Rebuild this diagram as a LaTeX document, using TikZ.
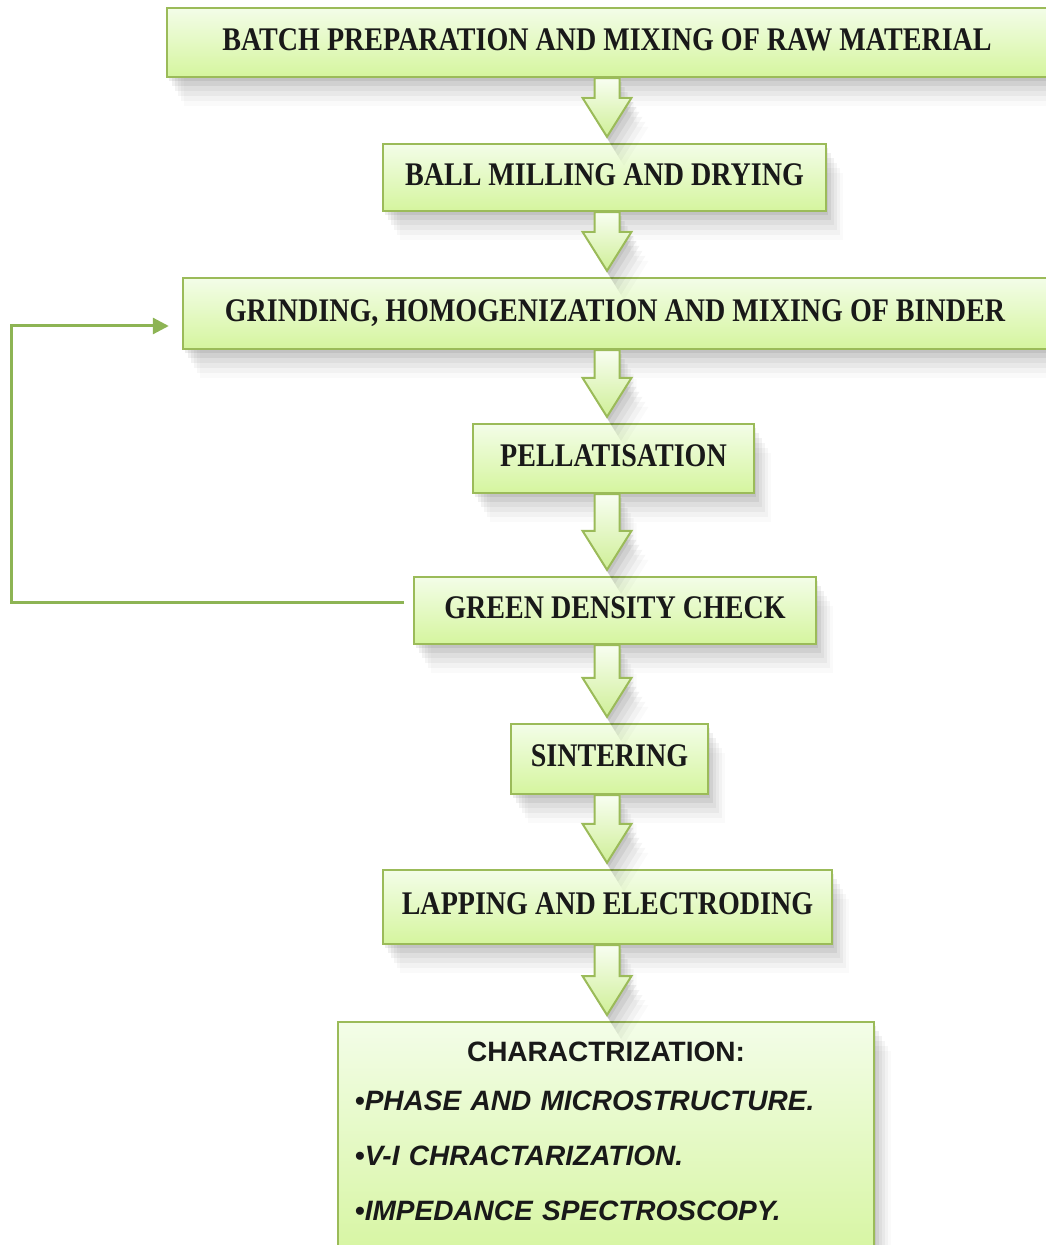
\documentclass[tikz,border=0pt]{standalone}
\usepackage{fontspec}
\setmainfont{Liberation Serif}
\setsansfont{Liberation Sans}
\newfontfamily\stepfont{Liberation Serif}[FakeStretch=0.85]
\usetikzlibrary{shadows,arrows.meta,calc}
\definecolor{stepedge}{HTML}{9BBB59}
\definecolor{steptop}{HTML}{F3FDE8}
\definecolor{stepbot}{HTML}{D5F59E}
\definecolor{fbgreen}{HTML}{8DB454}
\tikzset{
  softshadow/.style={
    drop shadow={shadow xshift=1pt,shadow yshift=-2pt,opacity=0.07,fill=black},
    drop shadow={shadow xshift=2.5pt,shadow yshift=-4.5pt,opacity=0.06,fill=black},
    drop shadow={shadow xshift=4pt,shadow yshift=-7pt,opacity=0.05,fill=black},
    drop shadow={shadow xshift=5.5pt,shadow yshift=-9.5pt,opacity=0.04,fill=black},
    drop shadow={shadow xshift=7pt,shadow yshift=-12pt,opacity=0.03,fill=black},
    drop shadow={shadow xshift=8.5pt,shadow yshift=-14.5pt,opacity=0.02,fill=black}},
  stepbox/.style={draw=stepedge,line width=1.2pt,top color=steptop,bottom color=stepbot,
    text=black!90,font=\stepfont\bfseries\fontsize{16.5}{19}\selectfont,inner sep=0pt,
    text height=12pt,text depth=4.2pt,softshadow},
  charbox/.style={stepbox,font=\sffamily\bfseries\fontsize{14}{27.5}\selectfont,
    text height=,text depth=,
    minimum width=268pt,inner xsep=8.5pt,inner ysep=10pt,text width=251pt},
  flowarrow/.style={draw=stepedge,line width=1pt,top color=steptop!60!white,bottom color=stepbot!90!stepedge,
    softshadow},
  feedback/.style={draw=fbgreen,line width=1.5pt,-{Triangle[length=8pt,width=8pt]}}
}
\newcommand{\flowarrow}[2]{%
  \path[flowarrow] let \p1=(#1.south), \p2=(#2.north) in
    (297.25pt,\y1) -- ({297.25pt},{\y2+22.5pt}) -- ({291.25pt},{\y2+22.5pt})
    -- ({303.5pt},{\y2+3pt}) -- ({315.75pt},{\y2+22.5pt}) -- ({309.75pt},{\y2+22.5pt})
    -- (309.75pt,\y1) -- cycle;}
\begin{document}
\begin{tikzpicture}[x=0.5pt,y=-0.5pt]
  \useasboundingbox (0,0) rectangle (1045,1245);
  \node[stepbox,minimum width=440pt,minimum height=34.5pt] (batch) at (607,42.5) {BATCH PREPARATION AND MIXING OF RAW MATERIAL};
  \node[stepbox,minimum width=221.5pt,minimum height=33.5pt] (milling) at (604.5,177.5) {BALL MILLING AND DRYING};
  \node[stepbox,minimum width=432pt,minimum height=35.5pt] (grinding) at (615,313.5) {GRINDING, HOMOGENIZATION AND MIXING OF BINDER};
  \node[stepbox,minimum width=140.5pt,minimum height=34.5pt] (pellet) at (613.5,458.5) {PELLATISATION};
  \node[stepbox,minimum width=201pt,minimum height=33.5pt] (density) at (615,610.5) {GREEN DENSITY CHECK};
  \node[stepbox,minimum width=98.5pt,minimum height=35pt] (sinter) at (609.5,759) {SINTERING};
  \node[stepbox,minimum width=224.5pt,minimum height=37pt] (lapping) at (607.5,907) {LAPPING AND ELECTRODING};
  \node[charbox,anchor=north] (charac) at (606,1021) {\makebox[251pt]{CHARACTRIZATION:}\par
    \vspace{-3pt}\raggedright
    •{\itshape PHASE AND MICROSTRUCTURE.}\par
    •{\itshape V-I CHRACTARIZATION.}\par
    •{\itshape IMPEDANCE SPECTROSCOPY.}\rule[-14pt]{0pt}{1pt}};
  \flowarrow{batch}{milling}
  \flowarrow{milling}{grinding}
  \flowarrow{grinding}{pellet}
  \flowarrow{pellet}{density}
  \flowarrow{density}{sinter}
  \flowarrow{sinter}{lapping}
  \flowarrow{lapping}{charac}
  \draw[feedback] ([xshift=-4.5pt,yshift=4.25pt]density.west) -- ++(-392,0) |- ([xshift=-6.5pt,yshift=-6.25pt]grinding.west);
\end{tikzpicture}
\end{document}
